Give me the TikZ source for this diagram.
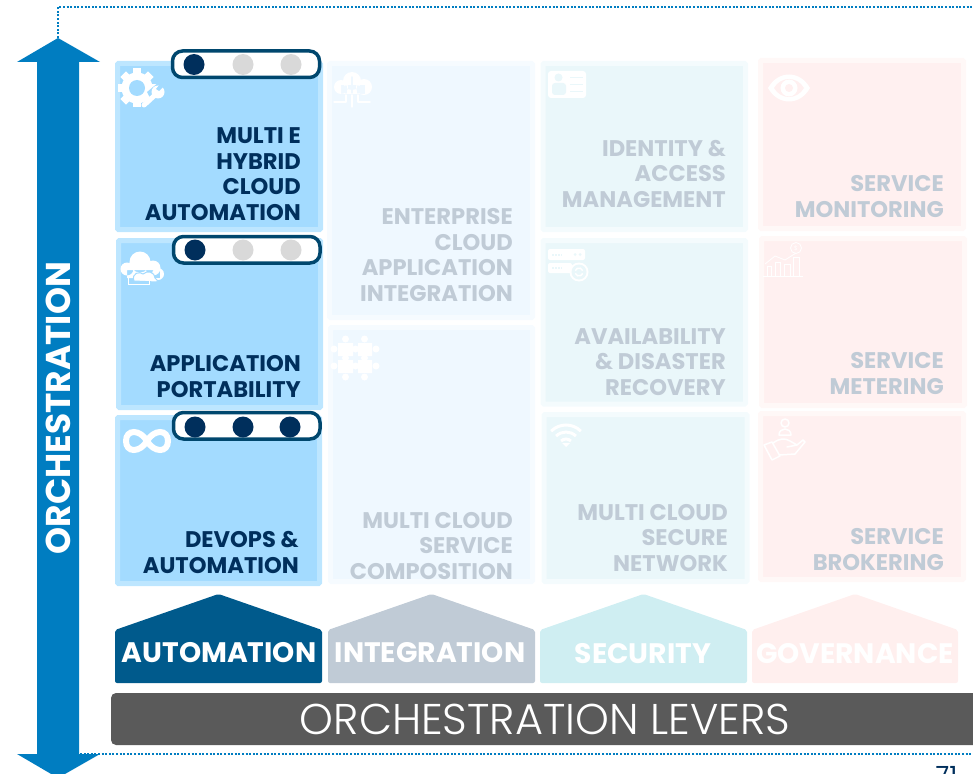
\documentclass[tikz,border=0pt]{standalone}
\usepackage{fontspec}
\setmainfont{Poppins}
\newfontfamily\lightfont{Poppins Light}
\usepackage{xcolor}
\definecolor{levblue}{HTML}{007DC1}
\definecolor{navy}{HTML}{002F5C}
\definecolor{pillline}{HTML}{00476E}
\definecolor{dotgrey}{HTML}{D9D9D9}
\definecolor{autoedge}{HTML}{BDE6FF}
\definecolor{autofill}{HTML}{A3DBFF}
\definecolor{integedge}{HTML}{F6FBFF}
\definecolor{integfill}{HTML}{EFF8FF}
\definecolor{secedge}{HTML}{F4FBFD}
\definecolor{secfill}{HTML}{EAF7FA}
\definecolor{govedge}{HTML}{FFF8F7}
\definecolor{govfill}{HTML}{FFF0F0}
\definecolor{fadetext}{HTML}{C0CBD6}
\definecolor{barfill}{HTML}{5A5A5A}
\definecolor{autohouse}{HTML}{005A8C}
\definecolor{sechouse}{HTML}{CFEEF2}
\definecolor{govhouse}{HTML}{FFEFEE}
\tikzset{
  autobox/.style={draw=autoedge,fill=autofill,line width=5pt,rounded corners=1pt},
  integbox/.style={draw=integedge,fill=integfill,line width=5pt,rounded corners=1pt},
  secbox/.style={draw=secedge,fill=secfill,line width=5pt,rounded corners=1pt},
  govbox/.style={draw=govedge,fill=govfill,line width=5pt,rounded corners=1pt},
  boxlabel/.style={font=\bfseries\fontsize{22.6}{25.6}\selectfont,align=right,anchor=south east,inner sep=0pt,text depth=0pt},
  onlabel/.style={boxlabel,text=navy},
  offlabel/.style={boxlabel,text=fadetext},
  housetext/.style={font=\bfseries\fontsize{28.2}{32}\selectfont,text=white,inner sep=0pt},
  housefill/.style={rounded corners=2pt},
  pill/.style={draw=pillline,fill=white,line width=3.5pt,rounded corners=10pt},
  dotfull/.style={circle,fill=navy,minimum size=21pt,inner sep=0pt},
  dotempty/.style={circle,fill=dotgrey,minimum size=21pt,inner sep=0pt},
  frameline/.style={levblue,line width=2.2pt,dash pattern=on 2pt off 1.6pt},
  iconline/.style={draw=white,line width=1.5pt,line cap=round,line join=round}
}
\begin{document}
\begin{tikzpicture}[x=1pt,y=-1pt]
  \useasboundingbox (0,0) rectangle (973,773);
  % dotted frame behind the arrow
  \coordinate (frametop) at (58,38);
  \coordinate (framecorner) at (58,7);
  \coordinate (frameend) at (975,7);
  \coordinate (lowstart) at (80,754);
  \coordinate (lowend) at (975,754);
  \draw[frameline] (frametop) -- (framecorner) -- (frameend);
  \draw[frameline] (lowstart) -- (lowend);
  % double arrow
  \fill[levblue] (58,38) -- (100,62) -- (79,62) -- (79,754) -- (100,754) -- (58,778) -- (17,754) -- (37,754) -- (37,62) -- (17,62) -- cycle;
  \node[rotate=90,font=\bfseries\fontsize{34.4}{38}\selectfont,text=white,inner sep=0pt] (orch) at (58,408) {ORCHESTRATION};

  % automation column
  \draw[autobox] (117.5,63.5) rectangle (320.5,229.5);
  \draw[autobox] (118.5,240.5) rectangle (320.5,407.5);
  \draw[autobox] (117.5,417.5) rectangle (319.5,583.5);
  % integration column
  \draw[integbox] (329.5,63.5) rectangle (532.5,317.5);
  \draw[integbox] (330.5,327.5) rectangle (532.5,581.5);
  % security column
  \draw[secbox] (543,63.5) rectangle (745.5,229.5);
  \draw[secbox] (543,240.5) rectangle (745.5,404);
  \draw[secbox] (544,414.5) rectangle (747,581.5);
  % governance column
  \draw[govbox] (760.5,60.5) rectangle (963.5,228.5);
  \draw[govbox] (761.5,238.5) rectangle (964.5,405.5);
  \draw[govbox] (760.5,413.5) rectangle (963.5,579.5);

  % gear and wrench
  \foreach \ang in {0,45,...,315}
    \fill[white,rotate around={\ang:(137,88)}] (133,68.5) rectangle (141,80);
  \fill[white] (137,88) circle (15.5);
  \fill[autofill] (137,88) circle (8);
  \fill[autofill] (153,104) -- (147,92) -- (159,82) -- (170,100) -- cycle;
  \draw[white,line width=5pt,line cap=round] (144,105) -- (154,96);
  \fill[white] (158,92) circle (6.5);
  \fill[autofill] (159,91) -- (166,84) -- (160,84) -- (156,89) -- cycle;
  % clouds with a return arrow
  \fill[white] (127,269) circle (6.5) (140,262) circle (10.5) (153,268) circle (7.5) (158,274) circle (6) (127,270) rectangle (160,278);
  \draw[autofill,fill=white,line width=1pt] (134,281) .. controls (131,273) and (140,271) .. (143,274) .. controls (147,270) and (155,272) .. (155,278) -- (157,280) -- (157,282) -- cycle;
  \draw[white,line width=1pt] (128,278) -- (128,284) -- (149,284) -- (149,281);
  % infinity
  \draw[white,line width=6pt] (147,441) .. controls (140,429) and (126,429) .. (126,441) .. controls (126,453) and (140,453) .. (147,441) .. controls (154,429) and (168,429) .. (168,441) .. controls (168,453) and (154,453) .. (147,441);
  % cloud with circuit
  \fill[white] (341,87) circle (7) (352,81) circle (9) (364,87) circle (8) (341,85) rectangle (365,94);
  \draw[iconline,integfill] (352,77) -- (352,93);
  \draw[iconline,integfill] (346,86) -- (346,93) (358,86) -- (358,93);
  \draw[iconline] (334,102) -- (346,102) -- (346,95) (370,102) -- (358,102) -- (358,95) (352,95) -- (352,107);
  % puzzle
  \fill[white] (338,343) rectangle (353,356) (358,343) rectangle (372,356) (338,360) rectangle (353,373) (358,360) rectangle (372,373);
  \fill[white] (345.5,339) circle (3.5) (364.5,339) circle (3.5) (345.5,377) circle (3.5) (364.5,377) circle (3.5) (334,349) circle (3.5) (334,366) circle (3.5) (376,349) circle (3.5) (376,366) circle (3.5) (355.5,349) circle (3.5) (345.5,358) circle (3.5) (364.5,358) circle (3.5) (355.5,366) circle (3.5);
  % id card
  \fill[white,rounded corners=3pt] (548,71) rectangle (586,98);
  \fill[secfill] (558.5,77.5) circle (4);
  \fill[secfill,rounded corners=3pt] (552,95) rectangle (566,83);
  \draw[secfill,line width=1.5pt] (570,77.5) -- (583,77.5) (570,84.5) -- (583,84.5) (570,91.5) -- (583,91.5);
  % server with refresh
  \fill[white,rounded corners=2pt] (548,249) rectangle (585,260) (548,263) rectangle (572,273);
  \draw[secfill,line width=2pt,dash pattern=on 1.5pt off 1.5pt] (552,254.5) -- (562,254.5) (552,268) -- (562,268);
  \fill[secfill] (575,254.5) circle (1.5) (580,254.5) circle (1.5);
  \fill[white] (579,272) circle (9.5);
  \fill[secfill] (579,272) circle (7.5);
  \draw[white,line width=1.5pt] ([shift={(-160:4)}]579,272) arc[start angle=-160,end angle=-20,radius=4];
  \draw[white,line width=1.5pt] ([shift={(20:4)}]579,272) arc[start angle=20,end angle=160,radius=4];
  % wifi
  \foreach \rad in {7,14,21}
    \draw[white,line width=3pt] ([shift={(-135:\rad)}]566,446) arc[start angle=-135,end angle=-45,radius=\rad];
  \fill[white] (566,447) -- (562,443) -- (570,443) -- cycle;
  % eye
  \fill[white] (768,88) .. controls (778,70) and (800,70) .. (810,88) .. controls (800,106) and (778,106) .. (768,88);
  \fill[govfill] (774,88) .. controls (781,76) and (797,76) .. (804,88) .. controls (797,100) and (781,100) .. (774,88);
  \fill[white] (789,88) circle (8.5);
  \fill[govfill] (789,88) circle (4);
  % chart with coin
  \draw[white,line width=0.8pt] (763,276) -- (803,276);
  \draw[white,line width=0.8pt] (767,276) |- (771,266) -- (771,276) (775,276) |- (780,262) -- (780,276) (784,276) |- (790,264) -- (790,276) (793,276) |- (799,257) -- (799,276);
  \draw[white,line width=0.8pt] (765,264) -- (775,256) -- (785,260) -- (796,253);
  \draw[white,line width=0.8pt] (796,248) circle (5.5);
  \node[font=\fontsize{6}{6}\selectfont,text=white,inner sep=0pt] (coin) at (796,248) {\$};
  % hand holding a person
  \draw[iconline] (785,423) circle (4);
  \draw[iconline] (779,435) .. controls (779,427) and (791,427) .. (791,435) -- cycle;
  \draw[iconline] (764,445) -- (772,442) -- (780,456) -- (772,460) -- cycle;
  \draw[iconline] (773,443) .. controls (780,438) and (785,438) .. (790,441) -- (797,445) -- (787,447) (797,445) -- (803,440) -- (805,442) -- (795,454) -- (779,455);

  % labels
  \node[onlabel] (hybrid) at (301,220.5) {MULTI E\\HYBRID\\CLOUD\\AUTOMATION};
  \node[onlabel] (portab) at (301,397.5) {APPLICATION\\PORTABILITY};
  \node[onlabel] (devops) at (299,573.5) {DEVOPS \&\\AUTOMATION};
  \node[offlabel] (enterprise) at (513,301.5) {ENTERPRISE\\CLOUD\\APPLICATION\\INTEGRATION};
  \node[offlabel] (compos) at (513,579.5) {MULTI CLOUD\\SERVICE\\COMPOSITION};
  \node[offlabel] (identity) at (726,207.5) {IDENTITY \&\\ACCESS\\MANAGEMENT};
  \node[offlabel] (avail) at (726,395.5) {AVAILABILITY\\\& DISASTER\\RECOVERY};
  \node[offlabel] (secnet) at (728,571.5) {MULTI CLOUD\\SECURE\\NETWORK};
  \node[offlabel] (monitor) at (944,217.5) {SERVICE\\MONITORING};
  \node[offlabel] (meter) at (944,394.5) {SERVICE\\METERING};
  \node[offlabel] (broker) at (944,570.5) {SERVICE\\BROKERING};

  % maturity pills
  \draw[pill] (172.5,51) rectangle (319.5,77.5);
  \draw[pill] (173.5,236.5) rectangle (320,263);
  \draw[pill] (173.5,412.5) rectangle (320,439);
  \node[dotfull] (a1) at (194,64.5) {};
  \node[dotempty] (a2) at (243,64.5) {};
  \node[dotempty] (a3) at (291,64.5) {};
  \node[dotfull] (b1) at (195,250) {};
  \node[dotempty] (b2) at (243,250) {};
  \node[dotempty] (b3) at (291,250) {};
  \node[dotfull] (c1) at (195,427) {};
  \node[dotfull] (c2) at (243,427) {};
  \node[dotfull] (c3) at (290,427) {};

  % lever houses
  \fill[autohouse,housefill] (115,683) -- (115,630) -- (218.5,594) -- (322,630) -- (322,683) -- cycle;
  \fill[fadetext,housefill] (328,683) -- (328,630) -- (431.5,594) -- (535,630) -- (535,683) -- cycle;
  \fill[sechouse,housefill] (540,683) -- (540,630) -- (643.5,594) -- (747,630) -- (747,683) -- cycle;
  \fill[govhouse,housefill] (752,683) -- (752,630) -- (855,594) -- (958,630) -- (958,683) -- cycle;
  \node[housetext] (lever1) at (219,653) {AUTOMATION};
  \node[housetext] (lever2) at (430,653) {INTEGRATION};
  \node[housetext] (lever3) at (643,654) {SECURITY};
  \node[housetext] (lever4) at (855,654) {GOVERNANCE};

  % bottom bar
  \fill[barfill,rounded corners=5pt] (111,693) rectangle (990,745);
  \node[font=\lightfont\fontsize{43}{48}\selectfont,text=white,inner sep=0pt] (levers) at (545,719) {ORCHESTRATION LEVERS};

  % page number
  \node[font=\fontsize{25}{28}\selectfont,text=navy,anchor=north,inner sep=0pt] (pageno) at (946.5,766) {71};
\end{tikzpicture}
\end{document}
